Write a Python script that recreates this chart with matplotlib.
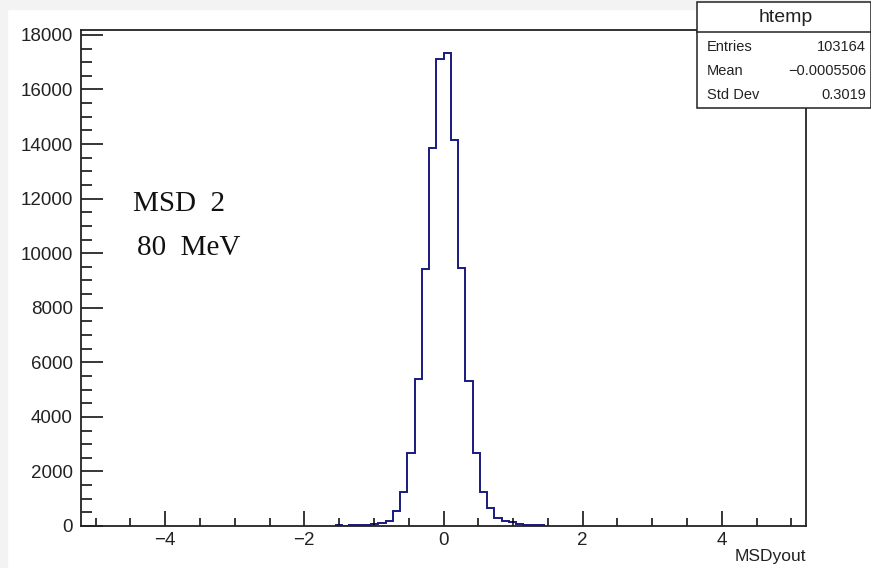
import numpy as np
import matplotlib.pyplot as plt
from matplotlib.patches import Rectangle
from matplotlib.lines import Line2D

# MSDyout histogram, 100 bins over [-5.21, 5.21]; only the non-empty bins are listed
x_min, x_max = -5.21, 5.21
n_bins = 100
first_bin = 35  # index of the first listed bin
counts = [30, 0, 20, 30, 35, 73, 115, 190, 560, 1235, 2665, 5380, 9420,
          13870, 17110, 17340, 14150, 9450, 5330, 2690, 1235, 660, 280,
          194, 136, 62, 40, 35, 30]

stat_names = ["Entries", "Mean", "Std Dev"]
stat_values = ["103164", "\u22120.0005506", "0.3019"]
hist_name = "htemp"
labels = ["MSD  2", "80  MeV"]

W, H = 871, 568
fig = plt.figure(figsize=(W / 100, H / 100), dpi=100)
fig.patch.set_facecolor("white")


def fx(px):
    return px / W


def fy(py):
    return 1 - py / H


# light grey margin on the left and top
fig.patches.append(Rectangle((0, 0), fx(7), 1, transform=fig.transFigure,
                             color="#f3f3f3", zorder=0))
fig.patches.append(Rectangle((0, fy(9)), 1, 9 / H, transform=fig.transFigure,
                             color="#f3f3f3", zorder=0))

ax = fig.add_axes([fx(81), fy(526), fx(806) - fx(81), fy(30) - fy(526)])

w = (x_max - x_min) / n_bins
edges = x_min + w * np.arange(first_bin, first_bin + len(counts) + 1)
ax.stairs(counts, edges, color="#1a1a80", linewidth=1.4, baseline=None)

ax.set_xlim(x_min, x_max)
ax.set_ylim(0, 18180)

ax.set_xticks([-4, -2, 0, 2, 4])
ax.set_xticks(np.arange(-5, 5.01, 0.5), minor=True)
ax.set_yticks(np.arange(0, 18001, 2000))
ax.set_yticks(np.arange(0, 18001, 500), minor=True)
ax.set_xticklabels(["\u22124", "\u22122", "0", "2", "4"])

for lab in ax.get_xticklabels() + ax.get_yticklabels():
    lab.set_fontfamily("Liberation Sans")
    lab.set_fontsize(13.5)
    lab.set_color("#222222")

ax.tick_params(axis="y", which="major", direction="in", length=16, width=1.1, pad=6)
ax.tick_params(axis="y", which="minor", direction="in", length=8, width=1.1)
ax.tick_params(axis="x", which="major", direction="in", length=10.5, width=1.1, pad=4.5)
ax.tick_params(axis="x", which="minor", direction="in", length=5.5, width=1.1)
for sp in ax.spines.values():
    sp.set_linewidth(1.3)
    sp.set_color("#222222")

ax.set_xlabel("MSDyout", loc="right", family="Liberation Sans", fontsize=12.5,
              labelpad=0, color="#222222")

ax.text(fx(133), fy(204), labels[0], transform=fig.transFigure, fontsize=21,
        family="Liberation Serif", va="center", ha="left", color="#111111")
ax.text(fx(137), fy(248), labels[1], transform=fig.transFigure, fontsize=21,
        family="Liberation Serif", va="center", ha="left", color="#111111")

# statistics box
box_l, box_r, box_t, box_b, sep = 697, 871, 2, 108, 32
fig.patches.append(Rectangle((fx(box_l), fy(box_b)), fx(box_r) - fx(box_l),
                             fy(box_t) - fy(box_b), transform=fig.transFigure,
                             facecolor="white", edgecolor="#222222", lw=1.1, zorder=5))
fig.lines.append(Line2D([fx(box_l), fx(box_r)], [fy(sep), fy(sep)],
                        transform=fig.transFigure, color="#222222", lw=1.1, zorder=6))
fig.text(fx(786), fy(18), hist_name, ha="center", va="center", fontsize=14,
         family="Liberation Sans", color="#222222", zorder=7)
row_y = [47, 71, 95]
for name, val, yy in zip(stat_names, stat_values, row_y):
    fig.text(fx(707), fy(yy), name, ha="left", va="center", fontsize=10.5,
             family=["Liberation Sans", "DejaVu Sans"], color="#222222", zorder=7)
    fig.text(fx(866), fy(yy), val, ha="right", va="center", fontsize=10.5,
             family=["Liberation Sans", "DejaVu Sans"], color="#222222", zorder=7)

fig.savefig("out.png", dpi=100)
